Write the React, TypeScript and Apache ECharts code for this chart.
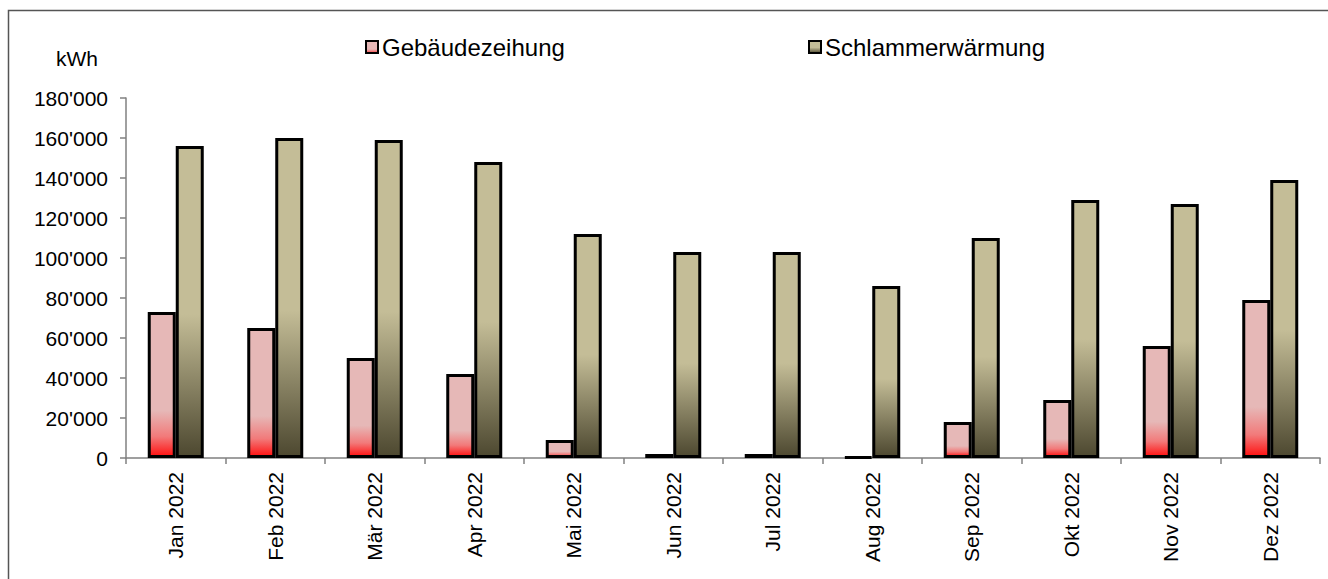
import React, { useEffect, useRef } from "react";
import * as echarts from "echarts";

// Monthly heat energy in kWh
const months = [
  "Jan 2022", "Feb 2022", "Mär 2022", "Apr 2022", "Mai 2022", "Jun 2022",
  "Jul 2022", "Aug 2022", "Sep 2022", "Okt 2022", "Nov 2022", "Dez 2022",
];
const gebaeude = [73000, 65000, 50000, 42000, 9000, 2000, 2000, 600, 18000, 29000, 56000, 79000];
const schlamm = [156000, 160000, 159000, 148000, 112000, 103000, 103000, 86000, 110000, 129000, 127000, 139000];
const seriesNames = ["Gebäudezeihung", "Schlammerwärmung"];
const unitLabel = "kWh";

const FONT = "'Liberation Sans', Arial, sans-serif";
const AXIS_GRAY = "#808080";

const fmt = (v: number) => String(v).replace(/\B(?=(\d{3})+(?!\d))/g, "'");

const pinkFill = new echarts.graphic.LinearGradient(0, 0, 0, 1, [
  { offset: 0, color: "#e6b8b7" },
  { offset: 0.68, color: "#e6b8b7" },
  { offset: 0.86, color: "#f27a7a" },
  { offset: 1, color: "#ff1010" },
]);
const khakiFill = new echarts.graphic.LinearGradient(0, 0, 0, 1, [
  { offset: 0, color: "#c4bd97" },
  { offset: 0.54, color: "#c4bd97" },
  { offset: 1, color: "#4d4830" },
]);

const legendBase = {
  top: 35,
  padding: 0,
  icon: "rect",
  itemWidth: 12,
  itemHeight: 12,
  itemGap: 4,
  itemStyle: { borderColor: "#000", borderWidth: 2 },
  textStyle: { fontSize: 24, color: "#000", fontFamily: FONT, padding: [0, 0, 0, -1] },
};

export default function App() {
  const ref = useRef<HTMLDivElement>(null);

  useEffect(() => {
    if (!ref.current) return;
    const chart = echarts.init(ref.current, undefined, { renderer: "svg" });
    chart.setOption({
      animation: false,
      backgroundColor: "#ffffff",
      textStyle: { fontFamily: FONT },
      grid: { left: 126, right: 8, top: 98, bottom: 121 },
      legend: [
        { ...legendBase, data: [seriesNames[0]], left: 365 },
        { ...legendBase, data: [seriesNames[1]], left: 808 },
      ],
      xAxis: {
        type: "category",
        data: months,
        axisLine: { lineStyle: { color: AXIS_GRAY, width: 1.5 } },
        axisTick: { show: true, length: 6, lineStyle: { color: AXIS_GRAY, width: 1.5 } },
        axisLabel: { rotate: 90, fontSize: 21, color: "#000", margin: 14, fontFamily: FONT },
      },
      yAxis: {
        type: "value",
        min: 0,
        max: 180000,
        interval: 20000,
        axisLine: { show: true, lineStyle: { color: AXIS_GRAY, width: 1.5 } },
        axisTick: { show: true, length: 6, lineStyle: { color: AXIS_GRAY, width: 1.5 } },
        splitLine: { show: false },
        axisLabel: { fontSize: 21, color: "#000", margin: 18, fontFamily: FONT, formatter: fmt },
      },
      series: [
        {
          name: seriesNames[0],
          type: "bar",
          data: gebaeude,
          barWidth: 28,
          barGap: "0%",
          itemStyle: { color: pinkFill, borderColor: "#000", borderWidth: 3 },
        },
        {
          name: seriesNames[1],
          type: "bar",
          data: schlamm,
          barWidth: 28,
          barGap: "0%",
          itemStyle: { color: khakiFill, borderColor: "#000", borderWidth: 3 },
        },
      ],
      graphic: [
        {
          type: "rect",
          silent: true,
          shape: { x: 8.5, y: 10.5, width: 1340, height: 620 },
          style: { fill: "none", stroke: "#555", lineWidth: 1.5 },
        },
        {
          type: "text",
          silent: true,
          style: {
            text: unitLabel,
            x: 77,
            y: 58,
            textAlign: "center",
            textVerticalAlign: "middle",
            font: `21px ${FONT}`,
            fill: "#000",
          },
        },
      ],
    });
    return () => chart.dispose();
  }, []);

  return (
    <div
      ref={ref}
      style={{ position: "absolute", left: 0, top: 0, width: 1328, height: 579 }}
    />
  );
}
